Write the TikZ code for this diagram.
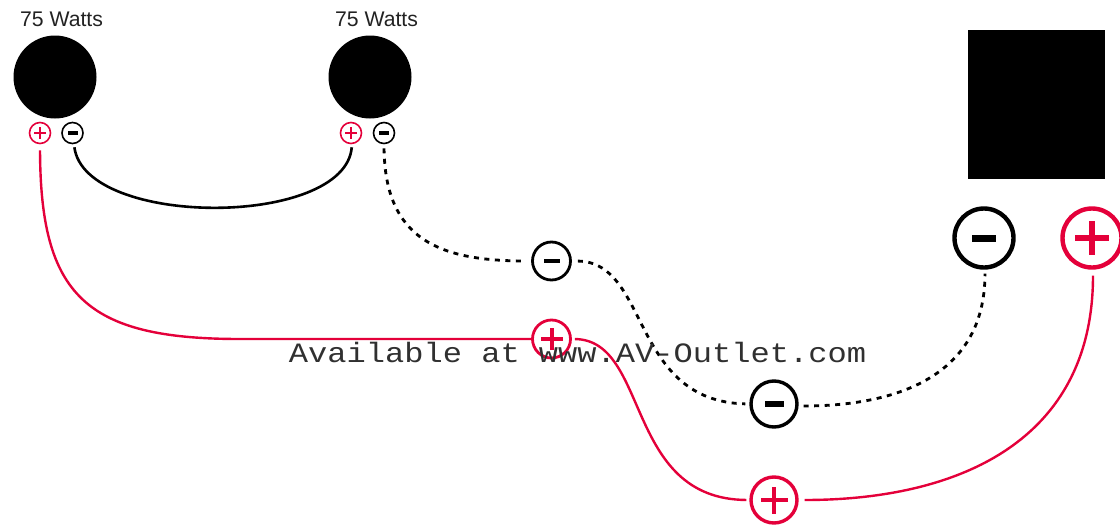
\documentclass[tikz,border=0pt]{standalone}
\usepackage{fontspec}
\setmainfont{Liberation Sans}
\newfontfamily\monofnt{Liberation Mono}
\definecolor{polred}{HTML}{E4003A}
\definecolor{txt}{HTML}{222222}
\definecolor{txtmono}{HTML}{303030}
\tikzset{
  speaker/.style={circle,fill=black,draw=none,inner sep=0pt,minimum size=83pt},
  wattlabel/.style={text=txt,font=\fontsize{21.2pt}{23pt}\selectfont,inner sep=0pt},
  term/.style n args={3}{circle,draw=#1,line width=#3,inner sep=0pt,minimum size=#2},
  minusmark/.style n args={2}{path picture={\fill[black] ([xshift=-#1,yshift=-#2]path picture bounding box.center) rectangle ([xshift=#1,yshift=#2]path picture bounding box.center);}},
  plusmark/.style n args={2}{path picture={\fill[polred] ([xshift=-#1,yshift=-#2]path picture bounding box.center) rectangle ([xshift=#1,yshift=#2]path picture bounding box.center);
     \fill[polred] ([xshift=-#2,yshift=-#1]path picture bounding box.center) rectangle ([xshift=#2,yshift=#1]path picture bounding box.center);}},
  redwire/.style={line width=2.4pt,draw=polred},
  blackwire/.style={line width=2.6pt,draw=black},
  dashwire/.style={line width=2.8pt,draw=black,dash pattern=on 5pt off 5.5pt},
}
\begin{document}
\begin{tikzpicture}[x=1pt,y=-1pt]
\useasboundingbox (0,0) rectangle (1120,525);
\node[speaker] (spkA) at (55,77) {};
\node[speaker] (spkB) at (370,77) {};
\node[wattlabel] (wA) at (61.5,19) {75 Watts};
\node[wattlabel] (wB) at (376.5,19) {75 Watts};
\fill[black] (968,30) rectangle (1105,179);
\node[term={polred}{21pt}{1.6pt},plusmark={5.8pt}{1.1pt}] (pA) at (40,133) {};
\node[term={black}{21pt}{1.6pt},minusmark={5pt}{1.9pt}] (mA) at (72.5,133) {};
\node[term={polred}{21pt}{1.6pt},plusmark={5.8pt}{1.1pt}] (pB) at (351,133) {};
\node[term={black}{21pt}{1.6pt},minusmark={5pt}{1.9pt}] (mB) at (384,133) {};
\node[term={black}{38pt}{2.8pt},minusmark={8pt}{2.2pt}] (mC) at (551.5,261) {};
\node[term={polred}{38pt}{2.8pt},plusmark={11pt}{2pt}] (pC) at (551.5,339) {};
\node[term={black}{46pt}{3.4pt},minusmark={9.5pt}{2.8pt}] (mD) at (774,404) {};
\node[term={polred}{46pt}{3.4pt},plusmark={13.5pt}{2.4pt}] (pD) at (774,500) {};
\node[term={black}{59pt}{4.4pt},minusmark={12pt}{3.5pt}] (mE) at (984,238) {};
\node[term={polred}{59pt}{4.4pt},plusmark={17pt}{3.2pt}] (pE) at (1092,238) {};
\draw[blackwire,shorten <=3pt,shorten >=3pt] ([xshift=1.5pt]mA.south) .. controls (85,228) and (345,228) .. ([xshift=1pt]pB.south);
\draw[redwire,shorten <=6pt] (pA.south) .. controls (40.5,295) and (85,339) .. (240,339) -- (pC.west);
\draw[dashwire,shorten <=4pt,shorten >=5pt] (mB.south) .. controls (385,240) and (440,261) .. (mC.west);
\draw[dashwire,shorten <=6pt,shorten >=4pt] (mC.east) .. controls (650,262) and (630,401) .. (mD.west);
\draw[redwire,shorten <=3pt,shorten >=3pt] (pC.east) .. controls (650,340) and (624,499) .. (pD.west);
\draw[dashwire,shorten <=5pt,shorten >=4pt] ([yshift=-2pt]mD.east) .. controls (890,406) and (985,380) .. ([xshift=1pt]mE.south);
\draw[redwire,shorten <=6pt,shorten >=6pt] (pD.east) .. controls (960,500) and (1093,440) .. ([xshift=1pt]pE.south);
\node[inner sep=0pt,text=txtmono,font=\monofnt\fontsize{28pt}{30pt}\selectfont,xscale=1.145] (avail) at (577.5,352.5) {Available at www.AV-Outlet.com};
\end{tikzpicture}
\end{document}
